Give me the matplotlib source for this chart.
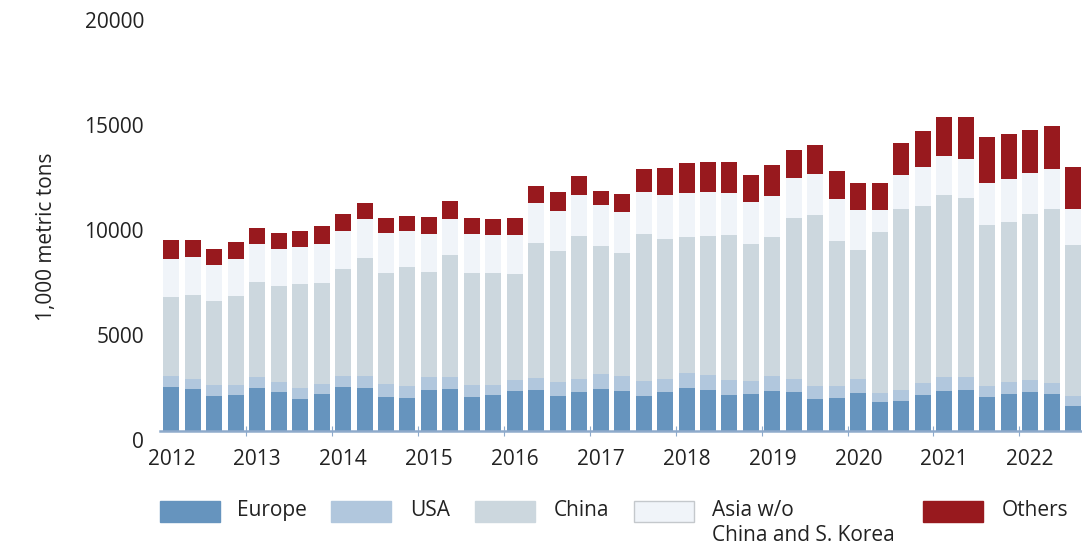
import numpy as np
import matplotlib.pyplot as plt
from matplotlib.patches import Rectangle
from matplotlib.transforms import ScaledTranslation

plt.rcParams['font.family'] = ['Open Sans', 'DejaVu Sans']

# quarterly values, 2012 Q1 .. 2022 Q3 (1,000 metric tons)
europe = [2100, 2000, 1670, 1710, 2050, 1860, 1520, 1760, 2100, 2050, 1620, 1570,
          1950, 2000, 1620, 1710, 1900, 1950, 1670, 1860, 2000, 1900, 1670, 1860,
          2050, 1950, 1710, 1760, 1900, 1860, 1520, 1570, 1810, 1380, 1430, 1710,
          1900, 1950, 1620, 1760, 1860, 1760, 1190]
usa = [520, 480, 520, 480, 520, 480, 520, 480, 520, 570, 620, 570,
       620, 570, 570, 480, 520, 570, 670, 620, 710, 710, 710, 620,
       710, 710, 710, 620, 710, 620, 620, 570, 670, 430, 520, 570,
       670, 620, 520, 570, 570, 520, 480]
china = [3760, 4000, 4000, 4240, 4520, 4570, 4950, 4810, 5100, 5620, 5290, 5670,
         5000, 5810, 5330, 5330, 5050, 6430, 6240, 6810, 6100, 5860, 7000, 6670,
         6480, 6620, 6900, 6520, 6620, 7670, 8140, 6900, 6140, 7670, 8620, 8430,
         8670, 8520, 7670, 7620, 7900, 8290, 7190]
asia = [1810, 1810, 1710, 1760, 1810, 1760, 1760, 1860, 1810, 1860, 1900, 1710,
        1810, 1710, 1860, 1810, 1860, 1900, 1900, 1950, 1950, 1950, 2000, 2100,
        2100, 2100, 2000, 2000, 1950, 1900, 1950, 2000, 1900, 1050, 1620, 1860,
        1860, 1860, 2000, 2050, 1950, 1900, 1710]
others = [900, 810, 760, 810, 760, 760, 760, 860, 810, 760, 710, 710,
          810, 860, 760, 760, 810, 810, 900, 900, 670, 860, 1100, 1290,
          1430, 1430, 1480, 1290, 1480, 1330, 1380, 1330, 1290, 1290, 1520, 1710,
          1860, 2000, 2190, 2140, 2050, 2050, 2000]

years = ["2012", "2013", "2014", "2015", "2016", "2017",
         "2018", "2019", "2020", "2021", "2022"]
yticks = [0, 5000, 10000, 15000, 20000]

names = ["Europe", "USA", "China", "Asia w/o\nChina and S. Korea", "Others"]
colors = ["#6694be", "#b1c7dd", "#ccd7de", "#f0f4f9", "#98191e"]
axis_col = "#8eaacb"
text_col = "#222222"

W, H = 1082, 550
fig = plt.figure(figsize=(W / 100, H / 100), dpi=100)
ax = fig.add_axes([160 / W, (H - 431) / H, 922 / W, 420 / H])

x = np.arange(len(europe))
bottom = np.zeros(len(x))
for vals, col in zip([europe, usa, china, asia, others], colors):
    ax.bar(x, vals, width=0.745, bottom=bottom, color=col, linewidth=0)
    bottom += np.array(vals)

ax.set_xlim(-0.527, 42.42)
ax.set_ylim(0, 20000)

for s in ["top", "right", "left"]:
    ax.spines[s].set_visible(False)
ax.spines["bottom"].set_color(axis_col)
ax.spines["bottom"].set_linewidth(1.8)

ax.set_xticks(x[::4])
ax.set_xticklabels(years)
ax.set_xticks(np.arange(3.5, len(x), 4), minor=True)
ax.tick_params(axis="x", which="major", length=0, pad=13, labelsize=15, labelcolor=text_col)
ax.tick_params(axis="x", which="minor", direction="inout", length=7, width=0.8, color=axis_col)

ax.set_yticks(yticks)
ax.set_yticklabels([str(v) for v in yticks])
ax.tick_params(axis="y", length=0, pad=11.5, labelsize=15, labelcolor=text_col)
shift = ScaledTranslation(0, -9 / 100, fig.dpi_scale_trans)
for lab in ax.get_yticklabels():
    lab.set_transform(lab.get_transform() + shift)

fig.text(47 / W, 1 - 237 / H, "1,000 metric tons", rotation=90, ha="center", va="center",
         fontsize=15, color=text_col)

# legend drawn by hand below the plot
patch_x = [160, 331, 475, 634, 923]
text_x = [237, 410, 554, 712, 1002]
for name, col, px, tx in zip(names, colors, patch_x, text_x):
    edge = "#c4c8cc" if col == "#f0f4f9" else col
    fig.add_artist(Rectangle((px / W, 1 - 522 / H), 60 / W, 21 / H, transform=fig.transFigure,
                             facecolor=col, edgecolor=edge, linewidth=1))
    for i, line in enumerate(name.split("\n")):
        fig.text(tx / W, 1 - (516 + 25 * i) / H, line, ha="left", va="baseline",
                 fontsize=15, color=text_col)

fig.savefig("out.png", dpi=100)
